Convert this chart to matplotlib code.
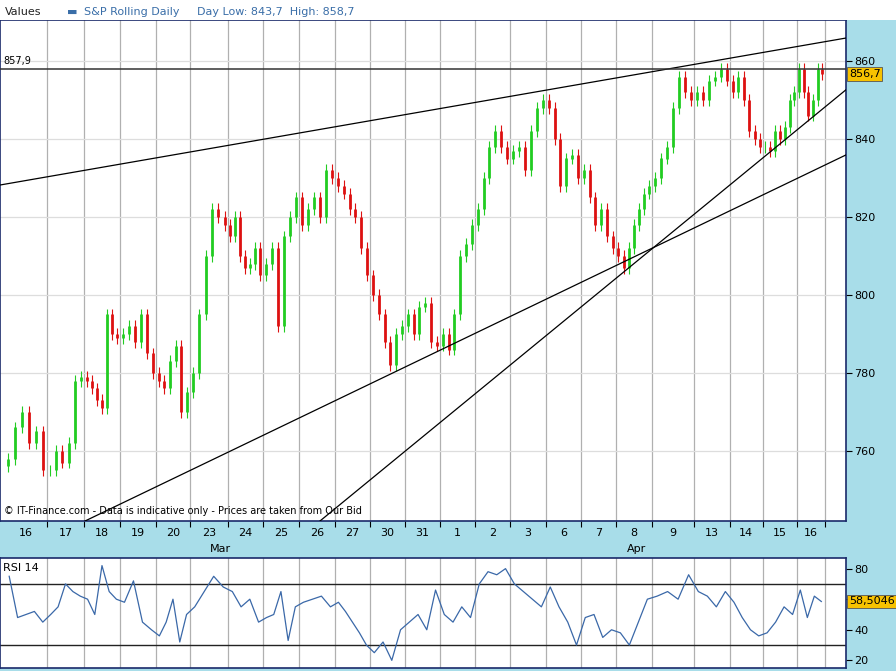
import numpy as np
import matplotlib.pyplot as plt

# day labels and the x edges of each trading day (chart x units)
day_labels = ['16', '17', '18', '19', '20', '23', '24', '25', '26', '27', '30', '31',
              '1', '2', '3', '6', '7', '8', '9', '13', '14', '15', '16']
day_edges = [5, 47, 84, 120, 156, 190, 228, 263, 299, 335, 370, 405, 440, 475,
             510, 546, 581, 616, 652, 694, 730, 763, 797, 825]

# approximate closes per day
closes = [
    [758, 766, 770, 762, 765, 755],
    [755, 760, 757, 762, 778, 779],
    [778, 776, 773, 771, 795, 790, 789],
    [790, 792, 788, 795, 785, 780],
    [778, 776, 783, 787, 770, 775],
    [780, 795, 810, 822, 820, 818],
    [815, 820, 810, 807, 808, 812, 805],
    [808, 812, 792, 815, 820, 825],
    [818, 822, 825, 820, 832, 830],
    [828, 826, 822, 820, 812, 805],
    [800, 795, 788, 782, 790, 792],
    [795, 790, 797, 798, 788, 787],
    [790, 786, 795, 810, 813, 818],
    [822, 830, 838, 842, 838, 835],
    [837, 838, 832, 842, 848, 850],
    [848, 840, 828, 835, 836, 830],
    [832, 825, 818, 822, 815, 812],
    [810, 807, 812, 818, 822, 826, 828],
    [830, 835, 838, 848, 856, 852, 850],
    [852, 850, 855, 856, 858, 855],
    [852, 856, 850, 842, 840, 838],
    [838, 837, 842, 840, 843, 850, 852],
    [858, 852, 846, 850, 858, 856.7],
]

rsi = [
    [75, 48, 50, 52, 45], [50, 55, 70, 65, 62], [60, 50, 82, 65, 60],
    [58, 72, 45, 40], [36, 45, 60, 32, 50], [55, 65, 75, 68], [65, 55, 60, 45],
    [48, 50, 65, 33, 55], [58, 60, 62, 55], [58, 52, 45, 38, 30], [25, 32, 20, 40],
    [45, 50, 40, 66], [50, 45, 55, 48], [70, 78, 76, 80], [70, 65, 60, 55],
    [68, 55, 45, 30], [48, 50, 35, 40], [38, 30, 45, 60], [62, 65, 60, 76],
    [65, 62, 55, 65], [58, 48, 40, 36], [38, 45, 55, 50], [66, 48, 62, 58.5],
]

# trend lines: (x, price) anchor pairs
trend_lines = [
    [(0, 828.2), (846, 865.9)],
    [(85, 742.0), (846, 835.9)],
    [(320, 742.0), (846, 852.6)],
]
hline = 857.9
last_price = 856.7
last_rsi = 58.5046

BG = '#a8dde9'
fig = plt.figure(figsize=(8.96, 6.71), dpi=100, facecolor=BG)
fig.patches.append(plt.Rectangle((0, 0.970), 1, 0.03, transform=fig.transFigure,
                                 facecolor='white', edgecolor='none'))
fig.text(0.006, 0.982, 'Values', fontsize=8, va='center', color='#222222')
fig.text(0.075, 0.982, '\u25ac', fontsize=8, va='center', color='#3a6ea8')
fig.text(0.094, 0.982, 'S&P Rolling Daily     Day Low: 843,7  High: 858,7',
         fontsize=8, va='center', color='#3a6ea8')

ax = fig.add_axes([0.0, 0.2235, 0.944, 0.7465])
ax2 = fig.add_axes([0.0, 0.0045, 0.944, 0.164])

def positions(values):
    xs = []
    for d, vals in enumerate(values):
        w = (day_edges[d + 1] - day_edges[d]) / len(vals)
        xs += [day_edges[d] + (i + 0.5) * w for i in range(len(vals))]
    return np.array(xs)

cx = positions(closes)
cy = np.concatenate([np.array(v, float) for v in closes])
prev = np.concatenate([[cy[0] - 2], cy[:-1]])
for x, o, c in zip(cx, prev, cy):
    col = '#22cc22' if c >= o else '#dd1111'
    ax.vlines(x, min(o, c) - 1.5, max(o, c) + 1.5, color=col, lw=0.8, zorder=3)
    ax.vlines(x, min(o, c), max(o, c) + 0.01, color=col, lw=2.0, zorder=3)

for (x0, y0), (x1, y1) in trend_lines:
    ax.plot([x0, x1], [y0, y1], color='black', lw=0.9, zorder=4)
ax.axhline(hline, color='#333333', lw=1.1, zorder=4)
ax.text(3, hline + 0.8, '857,9', fontsize=7, va='bottom')

ax.set_xlim(0, 846)
ax.set_ylim(742.0, 870.5)
for e in day_edges[1:]:
    ax.axvline(e, color='#b0b0b0', lw=0.9, zorder=1)
    ax2.axvline(e, color='#b0b0b0', lw=0.9, zorder=1)
for p in range(760, 861, 20):
    ax.axhline(p, color='#dddddd', lw=0.9, zorder=1)
ax.yaxis.tick_right()
ax.set_yticks(range(760, 861, 20))
ax.tick_params(axis='y', labelsize=8, length=4, pad=2)
centers = [(day_edges[i] + day_edges[i + 1]) / 2 for i in range(len(day_labels))]
ax.set_xticks(day_edges[1:], minor=False)
ax.set_xticklabels([])
ax.tick_params(axis='x', length=4, direction='out')
for c, lab in zip(centers, day_labels):
    ax.text(c, -0.024, lab, transform=ax.get_xaxis_transform(), ha='center', va='center', fontsize=8)
ax.text(220, -0.056, 'Mar', transform=ax.get_xaxis_transform(), ha='center', va='center', fontsize=8)
ax.text(637, -0.056, 'Apr', transform=ax.get_xaxis_transform(), ha='center', va='center', fontsize=8)
ax.text(4, 742.0 + 1.2, '\u00a9 IT-Finance.com - Data is indicative only - Prices are taken from Our Bid',
        fontsize=7, va='bottom')
ax.text(849, last_price, '856,7', fontsize=8, va='center', ha='left',
        bbox=dict(boxstyle='square,pad=0.15', fc='#f7c200', ec='#555555', lw=0.6),
        clip_on=False, zorder=6)

rx = positions(rsi)
ry = np.concatenate([np.array(v, float) for v in rsi])
ax2.plot(rx, ry, color='#3a68a8', lw=0.9, zorder=3)
ax2.axhline(70, color='#222222', lw=1.0)
ax2.axhline(30, color='#222222', lw=1.0)
ax2.set_xlim(0, 846)
ax2.set_ylim(15, 87)
ax2.set_xticks([])
ax2.yaxis.tick_right()
ax2.set_yticks([20, 40, 60, 80])
ax2.set_yticklabels(['20', '40', '', '80'])
ax2.tick_params(axis='y', labelsize=8, length=4, pad=2)
ax2.text(3, 84, 'RSI 14', fontsize=8, va='top')
ax2.text(849, last_rsi, '58,5046', fontsize=8, va='center', ha='left',
         bbox=dict(boxstyle='square,pad=0.15', fc='#f7c200', ec='#555555', lw=0.6),
         clip_on=False, zorder=6)

for a in (ax, ax2):
    a.set_facecolor('white')
    for s in a.spines.values():
        s.set_color('#1a2a6a')
        s.set_linewidth(1.2)

fig.savefig('out.png', dpi=100, facecolor=BG)
